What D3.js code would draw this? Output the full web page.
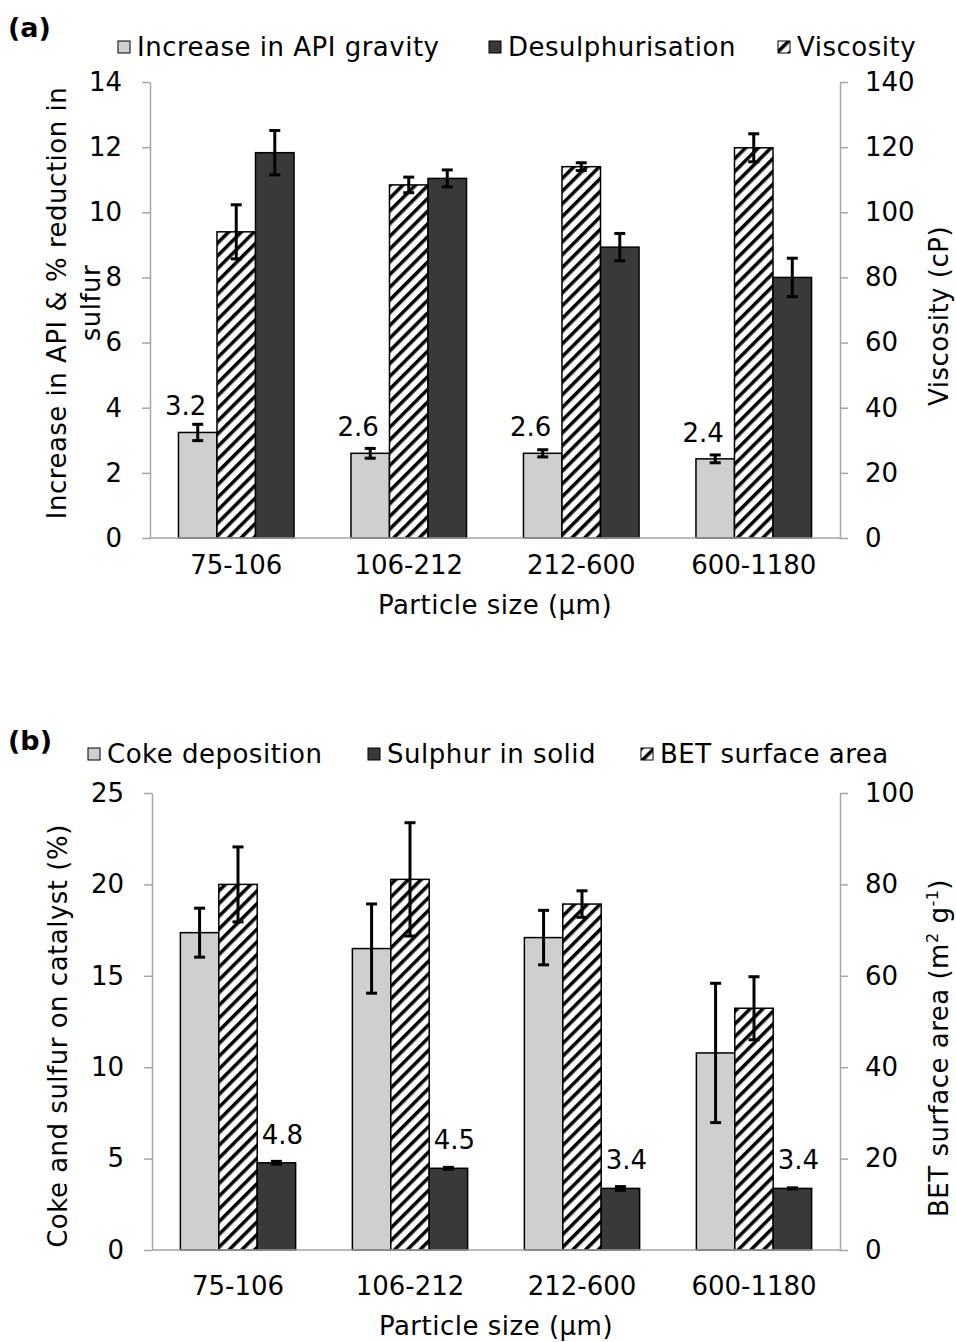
<!DOCTYPE html>
<html>
<head>
<meta charset="utf-8">
<script src="https://cdn.jsdelivr.net/npm/d3@7"></script>
<style>
  body { margin: 0; background: #fff; }
  text { font-family: "DejaVu Sans", Verdana, sans-serif; fill: #000; }
  .wide { letter-spacing: 0.5px; }
</style>
</head>
<body>
<div id="chart"></div>
<script>
// categories (particle size, µm)
var categories = ["75-106", "106-212", "212-600", "600-1180"];

// panel (a)
var apiIncrease = [3.24, 2.6, 2.6, 2.43];
var apiErr = [0.25, 0.15, 0.11, 0.12];
var apiLabels = ["3.2", "2.6", "2.6", "2.4"];
var viscosity = [94.0, 108.4, 114.0, 119.8];
var viscosityErr = [8.3, 2.4, 1.2, 4.3];
var desulph = [11.83, 11.04, 8.93, 8.0];
var desulphErr = [0.68, 0.26, 0.42, 0.59];
var ticksA = [0, 2, 4, 6, 8, 10, 12, 14];
var ticksViscosity = [0, 20, 40, 60, 80, 100, 120, 140];

// panel (b)
var cokeDeposition = [17.36, 16.49, 17.09, 10.78];
var cokeErr = [1.34, 2.44, 1.49, 3.81];
var betArea = [80.0, 81.1, 75.7, 52.9];
var betErr = [8.2, 12.4, 2.9, 6.9];
var sulphurSolid = [4.77, 4.47, 3.37, 3.37];
var sulphurErr = [0.08, 0.05, 0.1, 0.03];
var sulphurLabels = ["4.8", "4.5", "3.4", "3.4"];
var ticksB = [0, 5, 10, 15, 20, 25];
var ticksBet = [0, 20, 40, 60, 80, 100];

var light = "#d0cece", dark = "#3b3838", axisGrey = "#a6a6a6";
var fs = 26;

var svg = d3.select("#chart").append("svg")
  .attr("width", 956)
  .attr("height", 1342);

var defs = svg.append("defs");
var pat = defs.append("pattern")
  .attr("id", "hatch")
  .attr("patternUnits", "userSpaceOnUse")
  .attr("width", 9).attr("height", 9)
  .attr("patternTransform", "rotate(45)");
pat.append("rect").attr("width", 9).attr("height", 9).attr("fill", "#fff");
pat.append("rect").attr("width", 3.5).attr("height", 9).attr("fill", "#000");

function drawPanel(p) {
  var g = svg.append("g");

  var x0 = d3.scaleBand().domain(categories)
    .range([p.left, p.right]).paddingInner(0.33).paddingOuter(0.165);
  var x1 = d3.scaleBand().domain(d3.range(p.series.length))
    .range([0, x0.bandwidth()]);
  var yL = d3.scaleLinear().domain([0, d3.max(p.leftTicks)]).range([p.bottom, p.top]);
  var yR = d3.scaleLinear().domain([0, d3.max(p.rightTicks)]).range([p.bottom, p.top]);

  // axes
  var axL = g.append("g").attr("transform", "translate(" + p.left + ",0)")
    .call(d3.axisLeft(yL).tickValues(p.leftTicks).tickSize(8).tickSizeOuter(0).tickPadding(20));
  var axR = g.append("g").attr("transform", "translate(" + p.right + ",0)")
    .call(d3.axisRight(yR).tickValues(p.rightTicks).tickSize(8).tickSizeOuter(0).tickPadding(17));
  [axL, axR].forEach(function (a) {
    a.select(".domain").attr("stroke", axisGrey).attr("stroke-width", 1.5);
    a.selectAll(".tick line").attr("stroke", axisGrey).attr("stroke-width", 1.5);
    a.selectAll(".tick text").attr("font-size", fs).attr("font-family", null).attr("fill", "#000");
  });

  // bars
  p.series.forEach(function (s, si) {
    var y = s.axis === "left" ? yL : yR;
    g.append("g").selectAll("rect")
      .data(s.values)
      .enter()
        .append("rect")
          .attr("x", function (d, i) { return x0(categories[i]) + x1(si); })
          .attr("y", function (d) { return y(d); })
          .attr("width", x1.bandwidth())
          .attr("height", function (d) { return p.bottom - y(d); })
          .attr("fill", s.fill)
          .attr("stroke", "#000")
          .attr("stroke-width", 1.5);
  });

  // x axis line
  g.append("line")
    .attr("x1", p.left).attr("x2", p.right)
    .attr("y1", p.bottom).attr("y2", p.bottom)
    .attr("stroke", axisGrey).attr("stroke-width", 1.5);

  // error bars
  p.series.forEach(function (s, si) {
    var y = s.axis === "left" ? yL : yR;
    var eg = g.append("g").attr("stroke", "#000").attr("stroke-width", 3);
    s.values.forEach(function (d, i) {
      var cx = x0(categories[i]) + x1(si) + x1.bandwidth() / 2;
      var lo = y(d - s.err[i]), hi = y(d + s.err[i]);
      eg.append("line").attr("x1", cx).attr("x2", cx).attr("y1", lo).attr("y2", hi);
      eg.append("line").attr("x1", cx - 5.5).attr("x2", cx + 5.5).attr("y1", lo).attr("y2", lo);
      eg.append("line").attr("x1", cx - 5.5).attr("x2", cx + 5.5).attr("y1", hi).attr("y2", hi);
    });
  });

  // data labels
  var ls = p.series[p.labelSeries];
  var ly = ls.axis === "left" ? yL : yR;
  g.append("g").selectAll("text")
    .data(ls.values)
    .enter()
      .append("text")
        .attr("x", function (d, i) { return x0(categories[i]) + x1(p.labelSeries) + x1.bandwidth() / 2 + p.labelDx; })
        .attr("y", function (d) { return ly(d) - p.labelDy; })
        .attr("text-anchor", "middle")
        .attr("font-size", fs)
        .text(function (d, i) { return p.labels[i]; });

  // category labels
  g.append("g").selectAll("text")
    .data(categories)
    .enter()
      .append("text")
        .attr("x", function (d) { return x0(d) + x0.bandwidth() / 2; })
        .attr("y", p.bottom + p.catGap)
        .attr("text-anchor", "middle")
        .attr("font-size", fs)
        .text(function (d) { return d; });

  g.append("text")
    .attr("class", "wide")
    .attr("x", (p.left + p.right) / 2)
    .attr("y", p.bottom + p.catGap + 40)
    .attr("text-anchor", "middle")
    .attr("font-size", fs)
    .text("Particle size (µm)");

  // left title
  var lt = g.append("text")
    .attr("class", "wide")
    .attr("transform", "translate(" + p.leftTitleX + "," + p.leftTitleY + ") rotate(-90)")
    .attr("text-anchor", "middle")
    .attr("font-size", fs);
  p.leftTitle.forEach(function (line, i) {
    lt.append("tspan").attr("x", 0).attr("dy", i === 0 ? 0 : 34).text(line);
  });

  // right title
  var rt = g.append("text")
    .attr("class", "wide")
    .attr("transform", "translate(948," + p.rightTitleY + ") rotate(-90)")
    .attr("text-anchor", "middle")
    .attr("font-size", fs);
  p.rightTitle(rt);

  // panel letter
  g.append("text")
    .attr("x", 8).attr("y", p.letterY)
    .attr("font-size", 27).attr("font-weight", "bold")
    .text(p.letter);

  // legend
  p.legend.forEach(function (li) {
    var s = p.series[li.series];
    g.append("rect")
      .attr("x", li.x).attr("y", p.legendY - 12)
      .attr("width", 12).attr("height", 12)
      .attr("fill", s.fill).attr("stroke", "#000").attr("stroke-width", 1);
    g.append("text")
      .attr("class", "wide")
      .attr("x", li.x + 19).attr("y", p.legendY + 3)
      .attr("font-size", fs)
      .text(s.name);
  });
}

drawPanel({
  letter: "(a)", letterY: 37, legendY: 53,
  top: 82, bottom: 538, left: 150, right: 840, catGap: 36,
  leftTicks: ticksA, rightTicks: ticksViscosity,
  series: [
    {name: "Increase in API gravity", values: apiIncrease, err: apiErr, axis: "left", fill: light},
    {name: "Viscosity", values: viscosity, err: viscosityErr, axis: "right", fill: "url(#hatch)"},
    {name: "Desulphurisation", values: desulph, err: desulphErr, axis: "left", fill: dark}
  ],
  legend: [{series: 0, x: 118}, {series: 2, x: 489}, {series: 1, x: 778}],
  labelSeries: 0, labels: apiLabels, labelDx: -12, labelDy: 17,
  leftTitleX: 66, leftTitleY: 303, leftTitle: ["Increase in API & % reduction in", "sulfur"],
  rightTitleY: 316,
  rightTitle: function (t) { t.text("Viscosity (cP)"); }
});

drawPanel({
  letter: "(b)", letterY: 750, legendY: 760,
  top: 793, bottom: 1250, left: 152, right: 840, catGap: 45,
  leftTicks: ticksB, rightTicks: ticksBet,
  series: [
    {name: "Coke deposition", values: cokeDeposition, err: cokeErr, axis: "left", fill: light},
    {name: "BET surface area", values: betArea, err: betErr, axis: "right", fill: "url(#hatch)"},
    {name: "Sulphur in solid", values: sulphurSolid, err: sulphurErr, axis: "left", fill: dark}
  ],
  legend: [{series: 0, x: 88}, {series: 2, x: 368}, {series: 1, x: 641}],
  labelSeries: 2, labels: sulphurLabels, labelDx: 6, labelDy: 19,
  leftTitleX: 67, leftTitleY: 1036, leftTitle: ["Coke and sulfur on catalyst (%)"],
  rightTitleY: 1048,
  rightTitle: function (t) {
    t.append("tspan").text("BET surface area (m");
    t.append("tspan").attr("font-size", 16).attr("dy", -10).text("2");
    t.append("tspan").attr("dy", 10).text(" g");
    t.append("tspan").attr("font-size", 16).attr("dy", -10).text("-1");
    t.append("tspan").attr("dy", 10).text(")");
  }
});
</script>
</body>
</html>
